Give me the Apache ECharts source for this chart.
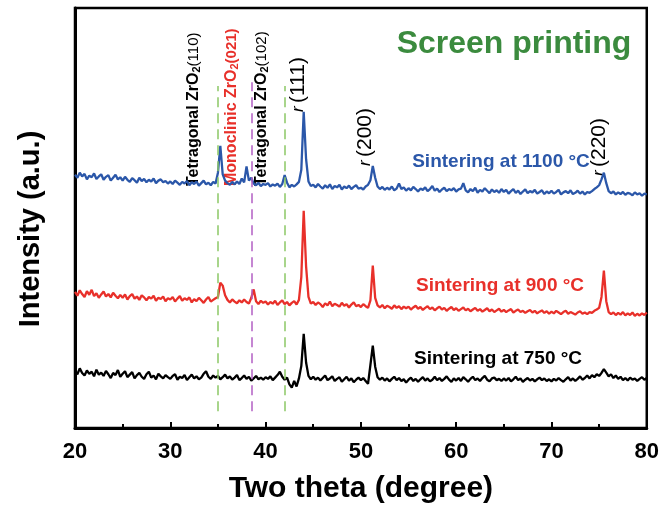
<!DOCTYPE html>
<html>
<head>
<meta charset="utf-8">
<script src="https://cdn.jsdelivr.net/npm/echarts@6/dist/echarts.min.js"></script>
<style>
  html, body { margin: 0; padding: 0; background: #fff; }
  #chart { width: 662px; height: 509px; }
</style>
</head>
<body>
<div id="chart"></div>
<script>
// two theta grid: 20 -> 80 deg, every 0.25 deg
const thetaStart = 20
const thetaStep = 0.25

// curves already shifted for the stacked display (a.u.)
const intensity1100 = [
  60.3, 59.6, 60.8, 59.9, 60.5, 59.2, 60.1, 59.7, 60.6, 59.3, 59.9, 60.4, 59.1, 59.8, 60.2, 58.9, 59.6, 60.3, 59.2, 59.7,
  58.9, 59.8, 59.1, 58.6, 59.5, 59.0, 58.4, 59.6, 58.8, 59.3, 58.5, 59.1, 58.7, 59.4, 58.3, 58.9, 59.2, 58.5, 58.8, 58.2,
  58.7, 58.1, 58.9, 58.4, 57.9, 58.6, 58.2, 58.8, 57.8, 58.5, 58.1, 58.7, 57.7, 58.3, 58.9, 58.0, 58.4, 57.8, 58.6, 58.2,
  60.8, 67.2, 60.4, 58.9, 58.3, 57.9, 58.6, 58.0, 58.7, 58.1, 59.4, 58.5, 62.3, 58.9, 59.6, 58.2, 57.8, 58.4, 57.6, 58.1,
  57.9, 58.3, 57.5, 58.0, 57.7, 58.2, 57.4, 58.1, 60.2, 58.4, 57.3, 57.9, 57.5, 58.0, 58.6, 61.5, 75.3, 64.0, 58.7, 57.6,
  57.9, 57.3, 58.1, 57.5, 57.0, 57.8, 57.2, 58.0, 56.9, 57.6, 57.3, 57.9, 56.8, 57.5, 57.1, 57.7, 56.9, 57.4, 57.8, 57.0,
  57.2, 56.8, 57.5, 57.9, 59.0, 62.4, 59.6, 57.5, 56.9, 57.4, 56.7, 57.2, 56.8, 57.5, 56.6, 57.0, 58.2, 56.9, 57.3, 56.5,
  57.1, 56.6, 57.4, 56.9, 56.3, 57.0, 56.7, 57.3, 56.4, 56.9, 57.6, 56.5, 57.0, 56.2, 56.8, 57.2, 56.4, 56.9, 56.6, 57.1,
  56.3, 56.8, 57.0, 58.3, 56.6, 56.1, 56.9, 56.4, 57.2, 56.0, 56.7, 56.3, 57.1, 56.5, 55.9, 56.8, 56.2, 56.6, 56.0, 56.9,
  56.2, 56.7, 55.8, 56.4, 56.9, 56.0, 56.5, 55.7, 56.3, 56.8, 55.9, 56.4, 56.1, 56.7, 55.8, 56.2, 56.6, 55.7, 56.3, 55.9,
  56.5, 55.8, 56.2, 56.7, 55.6, 56.1, 56.4, 55.9, 56.6, 55.7, 56.0, 56.5, 55.8, 56.3, 55.6, 56.2, 56.0, 56.4, 56.9, 57.3,
  57.8, 59.2, 60.8, 58.3, 56.4, 55.9, 56.3, 55.6, 56.1, 55.7, 56.2, 55.5, 56.0, 55.8, 55.4, 56.1, 55.6, 55.9, 55.3, 55.8,
  55.6
]
const intensity900 = [
  32.4, 31.5, 32.8, 31.9, 31.2, 32.6, 31.7, 32.9, 31.4, 32.1, 31.0, 31.8, 32.5, 31.3, 31.9, 31.1, 32.2, 31.5, 30.9, 31.7,
  31.0, 31.8, 30.6, 31.4, 31.9, 30.8, 31.3, 30.5, 31.6, 31.1, 30.4, 31.2, 30.8, 31.5, 30.3, 31.0, 30.7, 31.3, 30.2, 30.9,
  30.6, 31.2, 30.1, 30.8, 31.4, 30.3, 30.9, 30.5, 31.1, 29.9, 30.7, 30.2, 31.0, 30.4, 29.8, 30.6, 31.2, 30.1, 30.5, 30.9,
  31.2, 34.6, 33.9, 31.6, 30.5, 29.9, 30.6, 30.1, 29.7, 30.4, 29.9, 30.6, 30.0, 29.6, 31.0, 33.0, 30.2, 29.5, 30.3, 29.8,
  30.1, 29.4, 30.0, 29.6, 30.3, 29.3, 29.9, 30.4, 29.5, 30.0, 29.2, 29.8, 30.2, 29.4, 30.5, 36.0, 51.7, 38.5, 31.2, 29.6,
  30.0, 29.3, 29.9, 29.5, 28.8, 29.7, 29.2, 30.1, 29.0, 29.6, 29.3, 28.9, 29.8, 29.1, 29.5, 28.7, 29.4, 29.9, 29.0, 29.3,
  28.8, 29.5, 29.0, 28.6, 30.4, 38.7, 31.0, 29.2, 28.7, 29.3, 28.5, 29.1, 28.8, 28.4, 29.2, 28.6, 29.0, 28.3, 28.9, 28.5,
  28.9, 28.2, 28.7, 29.1, 28.4, 28.8, 28.1, 28.6, 29.0, 28.3, 28.7, 28.0, 28.5, 28.9, 28.2, 28.6, 27.9, 28.4, 28.8, 28.1,
  28.5, 27.9, 28.3, 28.7, 28.0, 28.4, 27.8, 28.2, 28.6, 27.9, 28.3, 27.7, 28.1, 28.5, 27.8, 28.2, 27.6, 28.0, 28.4, 27.7,
  28.1, 27.6, 28.0, 28.3, 27.5, 27.9, 28.2, 27.6, 27.9, 27.4, 27.8, 28.1, 27.5, 27.9, 27.3, 27.7, 28.0, 27.4, 27.8, 27.2,
  27.7, 27.3, 27.9, 27.5, 27.1, 27.6, 27.9, 27.2, 27.6, 27.3, 27.0, 27.5, 27.8, 27.2, 27.5, 27.1, 27.6, 27.4, 27.9, 28.2,
  28.6, 31.2, 37.5, 30.2, 27.6, 27.1, 27.5, 26.9, 27.4, 27.0, 27.6, 26.8, 27.3, 26.9, 27.5, 26.7, 27.2, 26.8, 27.3, 26.9,
  27.5
]
const intensity750 = [
  13.6, 12.8, 14.2, 13.1, 12.5, 13.7, 12.9, 13.4, 12.3, 13.9, 12.7, 13.2, 12.4, 13.6, 12.8, 11.9, 13.1, 12.6, 13.8, 12.2,
  12.9, 13.5, 12.1, 12.7, 13.3, 11.8, 12.6, 13.1, 12.2, 11.7, 12.8, 13.4, 12.0, 12.5, 11.6, 12.9, 12.3, 11.8, 12.6, 12.1,
  11.7, 12.4, 12.8, 11.5, 12.2, 11.9, 12.6, 11.4, 12.1, 12.7, 11.8, 12.3, 11.6, 12.0, 12.9, 13.5, 12.2, 11.7, 12.5, 12.0,
  12.4, 11.6, 12.1, 12.7, 11.8, 12.3, 11.5, 12.0, 12.6, 11.4, 11.9, 12.5, 11.7, 12.2, 11.3, 11.8, 12.4, 11.6, 12.0, 11.5,
  12.1, 11.7, 12.3, 11.4, 12.0, 12.6, 13.4, 12.2, 11.5, 12.0, 10.4, 9.6, 11.2, 9.9, 11.8, 14.8, 22.4, 15.6, 12.4, 11.6,
  12.2, 11.5, 12.0, 11.3, 11.9, 12.5, 11.4, 11.8, 12.3, 11.2, 11.7, 12.1, 11.0, 11.6, 12.2, 11.3, 11.8, 10.9, 11.5, 12.0,
  11.4, 11.9, 11.2, 10.5, 15.0, 19.6, 14.6, 12.1, 11.5, 12.0, 11.3, 11.8, 11.1, 11.7, 12.2, 11.4, 11.9, 11.2, 11.6, 10.8,
  11.5, 12.0, 11.2, 11.7, 11.0, 11.6, 12.1, 11.3, 11.8, 11.1, 11.5, 12.2, 11.4, 11.9, 11.2, 11.7, 12.3, 11.5, 11.0, 11.8,
  11.3, 11.9, 11.2, 12.1, 11.6, 11.0, 11.7, 12.2, 11.4, 11.8, 11.2, 11.9, 12.4, 11.5, 11.1, 11.8, 12.0, 11.4, 11.7, 11.2,
  11.8, 11.3, 11.9, 11.1, 11.6, 12.2, 11.4, 11.8, 11.0, 11.5, 11.9, 11.3, 11.7, 11.1, 11.6, 12.0, 11.4, 11.8, 11.2, 11.6,
  11.1, 11.7, 11.3, 11.9, 11.4, 11.0, 11.6, 12.1, 11.3, 11.8, 11.2, 11.7, 12.3, 11.5, 11.9, 12.5, 11.8, 12.6, 12.1, 12.8,
  12.4, 13.1, 14.0, 13.2, 12.3, 12.8, 11.9, 12.5, 11.7, 12.2, 11.4, 11.9, 11.3, 12.0, 11.5, 11.8, 11.2, 11.7, 12.1, 11.5,
  11.9
]

// reference peak positions (deg) for the dashed guide lines
const guideTheta = [35.0, 38.6, 42.0]
const guideColors = ['#8cc866', '#b25fc4', '#8cc866']
const guideTop = [81.4, 82.3, 81.4]
const guideBottom = 4.0

const font = "'Liberation Sans', Arial, sans-serif"

function pairs (values) {
  return values.map((v, i) => [thetaStart + i * thetaStep, v])
}

let chart = echarts.init(document.getElementById('chart'))

chart.setOption({
  animation: false,
  grid: {
    left: 75,
    right: 14,
    top: 8,
    bottom: 77,
    show: true,
    borderColor: '#000',
    borderWidth: 2.5
  },
  xAxis: {
    type: 'value',
    min: 20,
    max: 80,
    interval: 10,
    axisLine: { show: true, lineStyle: { color: '#000', width: 3 } },
    axisTick: { show: true, inside: true, length: 6, lineStyle: { color: '#000', width: 2 } },
    minorTick: { show: true, splitNumber: 2, length: 4, lineStyle: { color: '#000', width: 2 } },
    splitLine: { show: false },
    axisLabel: { color: '#000', fontSize: 22, fontWeight: 'bold', fontFamily: font, margin: 13 },
    name: 'Two theta (degree)',
    nameLocation: 'middle',
    nameGap: 46,
    nameTextStyle: { color: '#000', fontSize: 30, fontWeight: 'bold', fontFamily: font }
  },
  yAxis: {
    type: 'value',
    min: 0,
    max: 100,
    axisLine: { show: true, lineStyle: { color: '#000', width: 3 } },
    axisTick: { show: false },
    axisLabel: { show: false },
    splitLine: { show: false }
  },
  series: [
    {
      name: '750',
      type: 'line',
      data: pairs(intensity750),
      showSymbol: false,
      lineStyle: { color: '#000', width: 2.3 },
      markLine: {
        silent: true,
        symbol: 'none',
        label: { show: false },
        data: guideTheta.map((t, i) => [
          { coord: [t, guideBottom], lineStyle: { color: guideColors[i], type: [10, 6], width: 1.5 } },
          { coord: [t, guideTop[i]] }
        ])
      }
    },
    {
      name: '900',
      type: 'line',
      data: pairs(intensity900),
      showSymbol: false,
      lineStyle: { color: '#e8302a', width: 2.3 }
    },
    {
      name: '1100',
      type: 'line',
      data: pairs(intensity1100),
      showSymbol: false,
      lineStyle: { color: '#2b57a9', width: 2.3 }
    }
  ],
  graphic: [
    {
      type: 'text', x: 31, y: 229, rotation: Math.PI / 2,
      style: { text: 'Intensity (a.u.)', fill: '#000', font: 'bold 29px ' + font, align: 'center', verticalAlign: 'middle' }
    },
    {
      type: 'text', x: 514, y: 44,
      style: { text: 'Screen printing', fill: '#3b8b3e', font: 'bold 32px ' + font, align: 'center', verticalAlign: 'middle' }
    },
    {
      type: 'text', x: 501, y: 162,
      style: { text: 'Sintering at 1100 °C', fill: '#2b57a9', font: 'bold 19px ' + font, align: 'center', verticalAlign: 'middle' }
    },
    {
      type: 'text', x: 500, y: 286,
      style: { text: 'Sintering at 900 °C', fill: '#e8302a', font: 'bold 19px ' + font, align: 'center', verticalAlign: 'middle' }
    },
    {
      type: 'text', x: 498, y: 359,
      style: { text: 'Sintering at 750 °C', fill: '#000', font: 'bold 19px ' + font, align: 'center', verticalAlign: 'middle' }
    },
    {
      type: 'text', x: 194, y: 186, rotation: Math.PI / 2,
      style: {
        text: '{b|Tetragonal ZrO}{s|2}{p|(110)}', align: 'left', verticalAlign: 'middle',
        rich: {
          b: { fill: '#000', fontSize: 16, fontWeight: 'bold', fontFamily: font },
          s: { fill: '#000', fontSize: 11, fontWeight: 'bold', fontFamily: font, verticalAlign: 'bottom' },
          p: { fill: '#000', fontSize: 15, fontFamily: font }
        }
      }
    },
    {
      type: 'text', x: 232, y: 186, rotation: Math.PI / 2,
      style: {
        text: '{b|Monoclinic ZrO}{s|2}{p|(021)}', align: 'left', verticalAlign: 'middle',
        rich: {
          b: { fill: '#e8302a', fontSize: 16, fontWeight: 'bold', fontFamily: font },
          s: { fill: '#e8302a', fontSize: 11, fontWeight: 'bold', fontFamily: font, verticalAlign: 'bottom' },
          p: { fill: '#e8302a', fontSize: 15, fontWeight: 'bold', fontFamily: font }
        }
      }
    },
    {
      type: 'text', x: 262, y: 186, rotation: Math.PI / 2,
      style: {
        text: '{b|Tetragonal ZrO}{s|2}{p|(102)}', align: 'left', verticalAlign: 'middle',
        rich: {
          b: { fill: '#000', fontSize: 16, fontWeight: 'bold', fontFamily: font },
          s: { fill: '#000', fontSize: 11, fontWeight: 'bold', fontFamily: font, verticalAlign: 'bottom' },
          p: { fill: '#000', fontSize: 15, fontFamily: font }
        }
      }
    },
    {
      type: 'text', x: 298, y: 112, rotation: Math.PI / 2,
      style: {
        text: '{r|r} {p|(111)}', align: 'left', verticalAlign: 'middle',
        rich: {
          r: { fill: '#000', fontSize: 17, fontStyle: 'italic', fontFamily: font },
          p: { fill: '#000', fontSize: 21, fontFamily: font }
        }
      }
    },
    {
      type: 'text', x: 365, y: 166, rotation: Math.PI / 2,
      style: {
        text: '{r|r} {p|(200)}', align: 'left', verticalAlign: 'middle',
        rich: {
          r: { fill: '#000', fontSize: 17, fontStyle: 'italic', fontFamily: font },
          p: { fill: '#000', fontSize: 21, fontFamily: font }
        }
      }
    },
    {
      type: 'text', x: 599, y: 176, rotation: Math.PI / 2,
      style: {
        text: '{r|r} {p|(220)}', align: 'left', verticalAlign: 'middle',
        rich: {
          r: { fill: '#000', fontSize: 17, fontStyle: 'italic', fontFamily: font },
          p: { fill: '#000', fontSize: 21, fontFamily: font }
        }
      }
    }
  ]
})
</script>
</body>
</html>
